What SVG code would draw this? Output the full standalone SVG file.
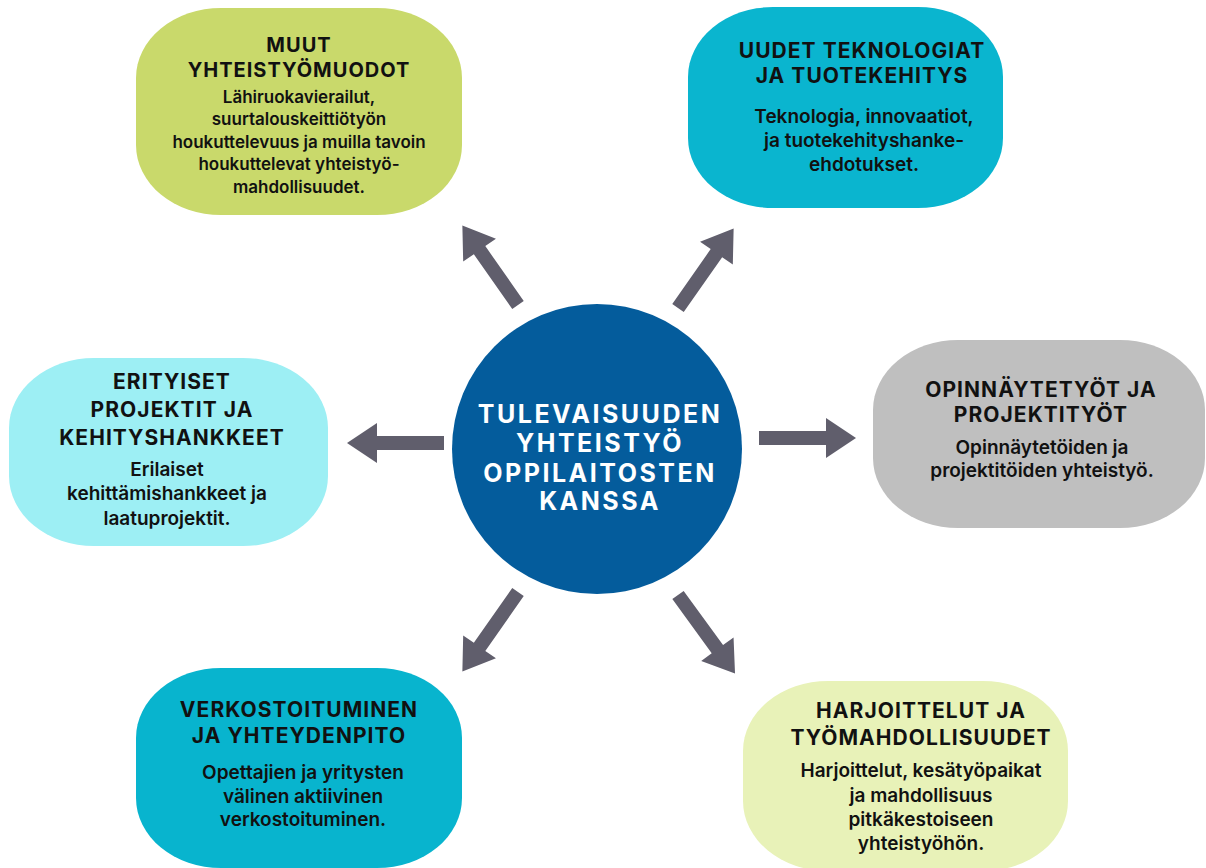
<svg xmlns="http://www.w3.org/2000/svg" width="1206" height="868" viewBox="0 0 1206 868">
<style>
.t{font-family:Inter,"Liberation Sans",sans-serif;font-weight:700;font-size:21px;letter-spacing:1.05px;fill:#111;text-anchor:middle}
.t1{font-size:20px;letter-spacing:1px}
.b{font-family:Inter,"Liberation Sans",sans-serif;font-weight:600;font-size:19px;fill:#111;text-anchor:middle}
.b1{font-size:17px}
.c{font-family:Inter,"Liberation Sans",sans-serif;font-weight:700;font-size:25px;letter-spacing:2.5px;fill:#fff;text-anchor:middle}
.arr{fill:#605E6C}
</style>
<defs>
<path id="arrow" d="M0,-7 H67 V-20 L97,0 L67,20 V7 H0 Z"/>
</defs>
<rect width="1206" height="868" fill="#fff"/>
<g id="connectors" class="arr">
<use href="#arrow" transform="translate(444,443) rotate(180)"/>
<use href="#arrow" transform="translate(759,438)"/>
<use href="#arrow" transform="translate(518,305) rotate(-125)"/>
<use href="#arrow" transform="translate(678,308) rotate(-55)"/>
<use href="#arrow" transform="translate(518,592) rotate(125)"/>
<use href="#arrow" transform="translate(678,595) rotate(54)"/>
</g>
<g id="center">
<circle cx="597" cy="449" r="145" fill="#045C9C"/>
<text class="c" x="600" y="423">TULEVAISUUDEN</text>
<text class="c" x="600" y="452">YHTEISTYÖ</text>
<text class="c" x="600" y="482">OPPILAITOSTEN</text>
<text class="c" x="600" y="510">KANSSA</text>
</g>
<g id="node-muut">
<rect x="136" y="8" width="326" height="207" rx="85" ry="70" fill="#C9D96B"/>
<text class="t t1" x="299" y="52">MUUT</text>
<text class="t t1" x="299" y="77">YHTEISTYÖMUODOT</text>
<text class="b b1" x="299" y="103">Lähiruokavierailut,</text>
<text class="b b1" x="299" y="125">suurtalouskeittiötyön</text>
<text class="b b1" x="299" y="148">houkuttelevuus ja muilla tavoin</text>
<text class="b b1" x="299" y="170">houkuttelevat yhteistyö-</text>
<text class="b b1" x="299" y="193">mahdollisuudet.</text>
</g>
<g id="node-uudet">
<rect x="688" y="7" width="315" height="201" rx="85" ry="70" fill="#0AB5CF"/>
<text class="t" x="862" y="58">UUDET TEKNOLOGIAT</text>
<text class="t" x="862" y="83">JA TUOTEKEHITYS</text>
<text class="b" x="864" y="123">Teknologia, innovaatiot,</text>
<text class="b" x="864" y="147">ja tuotekehityshanke-</text>
<text class="b" x="864" y="171">ehdotukset.</text>
</g>
<g id="node-erityiset">
<rect x="9" y="358" width="319" height="188" rx="85" ry="70" fill="#9DEFF4"/>
<text class="t" x="172" y="389">ERITYISET</text>
<text class="t" x="172" y="417">PROJEKTIT JA</text>
<text class="t" x="172" y="445">KEHITYSHANKKEET</text>
<text class="b" x="167" y="476">Erilaiset</text>
<text class="b" x="167" y="500">kehittämishankkeet ja</text>
<text class="b" x="167" y="525">laatuprojektit.</text>
</g>
<g id="node-opinnaytetyot">
<rect x="873" y="340" width="332" height="188" rx="85" ry="70" fill="#BFBFBF"/>
<text class="t" x="1041" y="397">OPINNÄYTETYÖT JA</text>
<text class="t" x="1041" y="422">PROJEKTITYÖT</text>
<text class="b" x="1042" y="454">Opinnäytetöiden ja</text>
<text class="b" x="1042" y="477">projektitöiden yhteistyö.</text>
</g>
<g id="node-verkostoituminen">
<rect x="136" y="668" width="326" height="200" rx="85" ry="70" fill="#08B4CE"/>
<text class="t" x="299" y="717">VERKOSTOITUMINEN</text>
<text class="t" x="299" y="743">JA YHTEYDENPITO</text>
<text class="b" x="303" y="779">Opettajien ja yritysten</text>
<text class="b" x="303" y="803">välinen aktiivinen</text>
<text class="b" x="303" y="826">verkostoituminen.</text>
</g>
<g id="node-harjoittelut">
<rect x="743" y="681" width="325" height="190" rx="85" ry="70" fill="#E8F2B8"/>
<text class="t" x="921" y="718">HARJOITTELUT JA</text>
<text class="t" x="921" y="745">TYÖMAHDOLLISUUDET</text>
<text class="b" x="921" y="777">Harjoittelut, kesätyöpaikat</text>
<text class="b" x="921" y="802">ja mahdollisuus</text>
<text class="b" x="921" y="826">pitkäkestoiseen</text>
<text class="b" x="921" y="850">yhteistyöhön.</text>
</g>
</svg>
